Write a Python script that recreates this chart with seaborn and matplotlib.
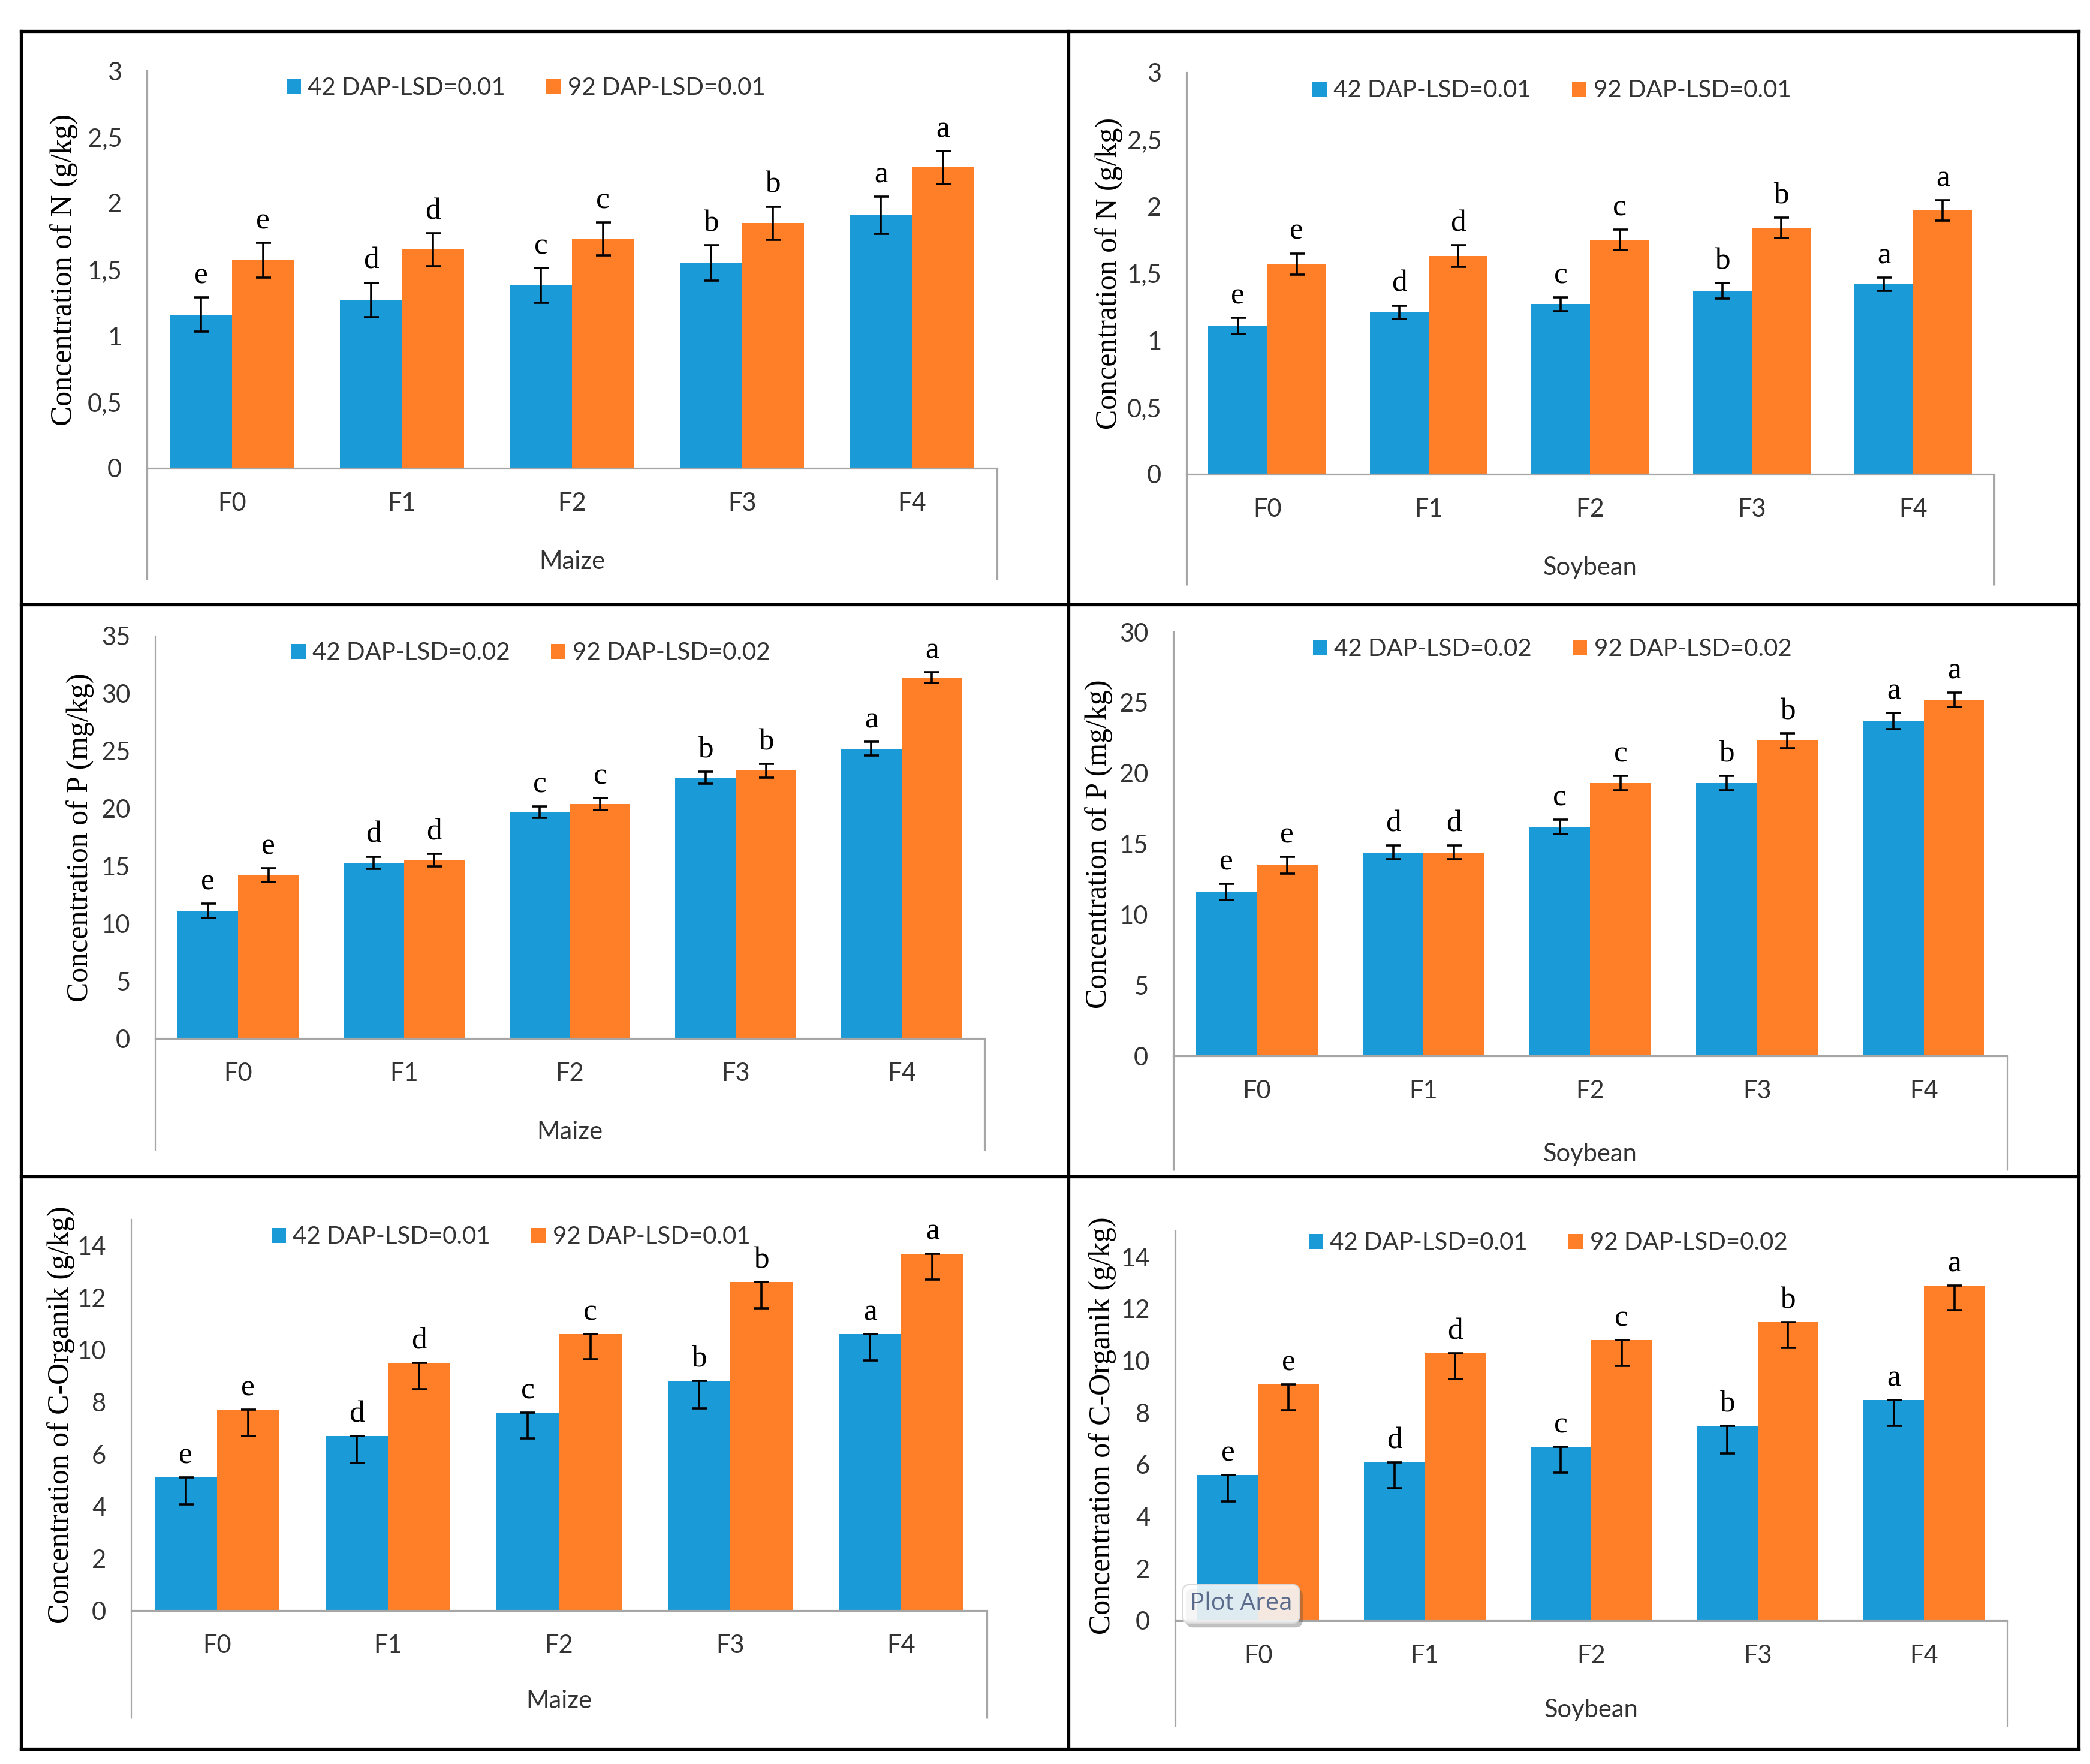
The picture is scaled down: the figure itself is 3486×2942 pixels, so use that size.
import matplotlib
matplotlib.use("Agg")
import matplotlib.pyplot as plt
import matplotlib.patheffects as pe
from matplotlib.lines import Line2D
from matplotlib.container import BarContainer
from matplotlib import font_manager
import numpy as np
import pandas as pd
import seaborn as sns

# ---------------- data ----------------
categories = ["F0", "F1", "F2", "F3", "F4"]
letters = ["e", "d", "c", "b", "a"]

# N (g/kg) - Maize
n_maize_42 = [1.16, 1.27, 1.38, 1.55, 1.91]
n_maize_92 = [1.57, 1.65, 1.73, 1.85, 2.27]
n_maize_err42 = [0.13, 0.13, 0.13, 0.135, 0.14]
n_maize_err92 = [0.13, 0.125, 0.125, 0.125, 0.125]
# N (g/kg) - Soybean
n_soy_42 = [1.11, 1.21, 1.27, 1.37, 1.42]
n_soy_92 = [1.57, 1.63, 1.75, 1.84, 1.97]
n_soy_err42 = [0.06, 0.05, 0.05, 0.06, 0.05]
n_soy_err92 = [0.08, 0.08, 0.075, 0.075, 0.077]
# P (mg/kg) - Maize
p_maize_42 = [11.1, 15.3, 19.7, 22.7, 25.2]
p_maize_92 = [14.2, 15.5, 20.4, 23.3, 31.4]
p_maize_err42 = [0.62, 0.53, 0.5, 0.53, 0.6]
p_maize_err92 = [0.6, 0.55, 0.53, 0.6, 0.48]
# P (mg/kg) - Soybean
p_soy_42 = [11.6, 14.4, 16.2, 19.3, 23.7]
p_soy_92 = [13.5, 14.4, 19.3, 22.3, 25.2]
p_soy_err42 = [0.58, 0.5, 0.52, 0.52, 0.58]
p_soy_err92 = [0.6, 0.5, 0.52, 0.52, 0.52]
# C-Organik (g/kg) - Maize (error bars drawn downward)
c_maize_42 = [5.1, 6.7, 7.6, 8.8, 10.6]
c_maize_92 = [7.7, 9.5, 10.6, 12.6, 13.7]
c_maize_err42 = [1.02, 1.04, 1.0, 1.04, 1.0]
c_maize_err92 = [1.0, 1.0, 0.95, 1.0, 1.0]
# C-Organik (g/kg) - Soybean (error bars drawn downward)
c_soy_42 = [5.6, 6.1, 6.7, 7.5, 8.5]
c_soy_92 = [9.1, 10.3, 10.8, 11.5, 12.9]
c_soy_err42 = [1.0, 1.0, 1.0, 1.05, 1.0]
c_soy_err92 = [1.0, 1.0, 1.0, 1.0, 0.95]

ticks_n = [0, 0.5, 1, 1.5, 2, 2.5, 3]
ticklabels_n = ["0", "0,5", "1", "1,5", "2", "2,5", "3"]
ticks_p_maize = [0, 5, 10, 15, 20, 25, 30, 35]
ticks_p_soy = [0, 5, 10, 15, 20, 25, 30]
ticks_c = [0, 2, 4, 6, 8, 10, 12, 14]

ylabel_n = "Concentration of N (g/kg)"
ylabel_p = "Concentration of P (mg/kg)"
ylabel_c = "Concentration of C-Organik (g/kg)"

# ---------------- style ----------------
BLUE = "#1A9BD7"
ORANGE = "#FE7F27"
AXISGREY = "#A6A6A6"
TXT = "#333333"

sns.set_style("white")
avail = {f.name for f in font_manager.fontManager.ttflist}
def pick(*names):
    for n in names:
        if n in avail:
            return n
    return "DejaVu Sans"
SANS = pick("Lato", "Liberation Sans", "DejaVu Sans")
SERIF = pick("Liberation Serif", "DejaVu Serif")
TIPFONT = pick("Open Sans", "Noto Sans", "DejaVu Sans")
plt.rcParams["font.family"] = [SANS, "DejaVu Sans"]

W, H = 3487, 2942
fig = plt.figure(figsize=(W / 100, H / 100), dpi=100)

panels = [
    dict(v=(n_maize_42, n_maize_92), e=(n_maize_err42, n_maize_err92), sym=True,
         ymax=3, ticks=ticks_n, tl=ticklabels_n, yl=ylabel_n, xl="Maize",
         leg=("42 DAP-LSD=0.01", "92 DAP-LSD=0.01"),
         L=245, R=1663, T=118, Z=781, B=967, gap=115, lc=(877, 147), xo=156),
    dict(v=(n_soy_42, n_soy_92), e=(n_soy_err42, n_soy_err92), sym=True,
         ymax=3, ticks=ticks_n, tl=ticklabels_n, yl=ylabel_n, xl="Soybean",
         leg=("42 DAP-LSD=0.01", "92 DAP-LSD=0.01"),
         L=1979, R=3326, T=121, Z=791, B=976, gap=106, lc=(2588, 151), xo=156),
    dict(v=(p_maize_42, p_maize_92), e=(p_maize_err42, p_maize_err92), sym=True,
         ymax=35, ticks=ticks_p_maize, tl=[str(t) for t in ticks_p_maize], yl=ylabel_p, xl="Maize",
         leg=("42 DAP-LSD=0.02", "92 DAP-LSD=0.02"),
         L=259, R=1642, T=1061, Z=1732, B=1919, gap=102, lc=(885, 1089), xo=156),
    dict(v=(p_soy_42, p_soy_92), e=(p_soy_err42, p_soy_err92), sym=True,
         ymax=30, ticks=ticks_p_soy, tl=[str(t) for t in ticks_p_soy], yl=ylabel_p, xl="Soybean",
         leg=("42 DAP-LSD=0.02", "92 DAP-LSD=0.02"),
         L=1957, R=3348, T=1054, Z=1761, B=1952, gap=101, lc=(2589, 1083), xo=164),
    dict(v=(c_maize_42, c_maize_92), e=(c_maize_err42, c_maize_err92), sym=False,
         ymax=15, ticks=ticks_c, tl=[str(t) for t in ticks_c], yl=ylabel_c, xl="Maize",
         leg=("42 DAP-LSD=0.01", "92 DAP-LSD=0.01"),
         L=219, R=1646, T=2034, Z=2686, B=2866, gap=94, lc=(852, 2063), xo=151),
    dict(v=(c_soy_42, c_soy_92), e=(c_soy_err42, c_soy_err92), sym=False,
         ymax=15, ticks=ticks_c, tl=[str(t) for t in ticks_c], yl=ylabel_c, xl="Soybean",
         leg=("42 DAP-LSD=0.01", "92 DAP-LSD=0.02"),
         L=1960, R=3348, T=2053, Z=2703, B=2880, gap=98, lc=(2582, 2073), xo=149),
]

for p in panels:
    aw, ah = p["R"] - p["L"], p["Z"] - p["T"]
    ax = fig.add_axes([p["L"] / W, 1 - p["Z"] / H, aw / W, ah / H])
    df = pd.DataFrame({
        "Treatment": categories * 2,
        "Series": [p["leg"][0]] * 5 + [p["leg"][1]] * 5,
        "Value": list(p["v"][0]) + list(p["v"][1]),
    })
    sns.barplot(data=df, x="Treatment", y="Value", hue="Series",
                order=categories, hue_order=list(p["leg"]),
                palette=[BLUE, ORANGE], saturation=1, width=0.73,
                errorbar=None, legend=False, linewidth=0, ax=ax)
    bars = [c for c in ax.containers if isinstance(c, BarContainer)]
    for cont, err in zip(bars, p["e"]):
        xs = [b.get_x() + b.get_width() / 2 for b in cont]
        ys = [b.get_height() for b in cont]
        up = list(err) if p["sym"] else [0.0] * len(err)
        ax.errorbar(xs, ys, yerr=[list(err), up], fmt="none", ecolor="black",
                    elinewidth=2.6, capsize=9, capthick=2.6, zorder=5)
        for x, y, u, l in zip(xs, ys, up, letters):
            ax.annotate(l, (x, y + u), xytext=(0, 17), textcoords="offset points",
                        ha="center", va="baseline", fontsize=37,
                        family=[SERIF, "DejaVu Serif"], color="black")
    ax.set_xlim(-0.5, len(categories) - 0.5)
    ax.set_ylim(0, p["ymax"])
    ax.set_yticks(p["ticks"])
    ax.set_yticklabels(p["tl"])
    ax.tick_params(axis="y", length=0, pad=30, labelsize=30, labelcolor=TXT)
    ax.tick_params(axis="x", length=0, pad=29, labelsize=30, labelcolor=TXT)
    for s in ("top", "right"):
        ax.spines[s].set_visible(False)
    for s in ("left", "bottom"):
        ax.spines[s].set_color(AXISGREY)
        ax.spines[s].set_linewidth(2.3)
    d = (p["B"] - p["Z"]) / ah
    for xx in (0, 1):
        ax.add_line(Line2D([xx, xx], [0, -d], transform=ax.transAxes, clip_on=False,
                           color=AXISGREY, lw=2.3, solid_capstyle="butt"))
    ax.set_xlabel(p["xl"], fontsize=30, color=TXT)
    ax.xaxis.set_label_coords(0.5, -p["xo"] / ah)
    ax.xaxis.label.set_va("center")
    ax.set_ylabel(p["yl"], fontsize=36, family=[SERIF, "DejaVu Serif"], color="black")
    ax.yaxis.set_label_coords(-p["gap"] / aw, 0.5)
    handles = [c.patches[0] for c in bars]
    ax.legend(handles, list(p["leg"]), loc="center", ncol=2, frameon=False,
              bbox_to_anchor=(p["lc"][0] / W, 1 - p["lc"][1] / H),
              bbox_transform=fig.transFigure, fontsize=29,
              handlelength=0.6, handleheight=0.6, handletextpad=0.28,
              columnspacing=1.7, borderpad=0, labelcolor=TXT)

# ---------------- table frame ----------------
def fl(x0, y0, x1, y1):
    fig.add_artist(Line2D([x0 / W, x1 / W], [1 - y0 / H, 1 - y1 / H],
                          transform=fig.transFigure, color="black", lw=3.8,
                          solid_capstyle="projecting"))

xl_, xr_, yt_, yb_ = 35, 3467, 52, 2917
fl(xl_, yt_, xr_, yt_)
fl(xl_, yb_, xr_, yb_)
fl(xl_, yt_, xl_, yb_)
fl(xr_, yt_, xr_, yb_)
fl(1782, yt_, 1782, yb_)
fl(xl_, 1008, xr_, 1008)
fl(xl_, 1962, xr_, 1962)

# ---------------- "Plot Area" tooltip ----------------
t = fig.text(2070 / W, 1 - 2675 / H, "Plot Area", ha="center", va="center",
             fontsize=29, color="#5B6B8C", family=[TIPFONT, "DejaVu Sans"],
             bbox=dict(boxstyle="round,pad=0.3,rounding_size=0.3",
                       fc=(1, 1, 1, 0.85), ec="#D8D8D8", lw=1.5))
t.get_bbox_patch().set_path_effects([pe.withSimplePatchShadow(offset=(4, -5), alpha=0.35)])

fig.savefig("out.png", dpi=100, facecolor="white")
